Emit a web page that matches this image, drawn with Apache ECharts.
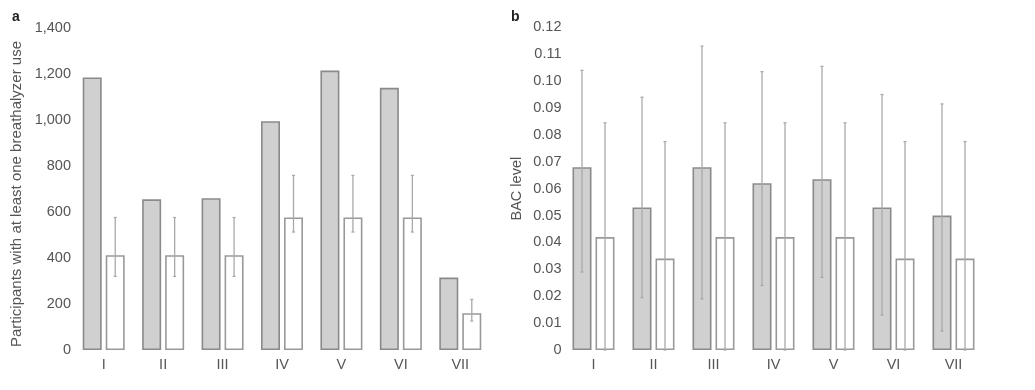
<!DOCTYPE html>
<html>
<head>
<meta charset="utf-8">
<script src="https://cdn.jsdelivr.net/npm/echarts@6/dist/echarts.min.js"></script>
<style>
html,body{margin:0;padding:0;background:#fff;}
#chart{width:1035px;height:390px;}
</style>
</head>
<body>
<div id="chart"></div>
<script>
var categories = ['I', 'II', 'III', 'IV', 'V', 'VI', 'VII'];

// Panel a: participants with at least one breathalyzer use
var aGray = [1185, 655, 660, 995, 1215, 1140, 315];
var aWhite = [412, 412, 412, 576, 576, 576, 160];
var aWhiteLow = [320, 320, 320, 513, 513, 513, 126];
var aWhiteHigh = [576, 576, 576, 759, 759, 759, 220];
var aTicks = [0, 200, 400, 600, 800, 1000, 1200, 1400];

// Panel b: BAC level
var bGray = [0.068, 0.053, 0.068, 0.062, 0.0635, 0.053, 0.050];
var bGrayLow = [0.029, 0.0195, 0.019, 0.024, 0.027, 0.013, 0.007];
var bGrayHigh = [0.104, 0.094, 0.113, 0.1035, 0.1055, 0.095, 0.0915];
var bWhite = [0.042, 0.034, 0.042, 0.042, 0.042, 0.034, 0.034];
var bWhiteLow = [0, 0, 0, 0, 0, 0, 0];
var bWhiteHigh = [0.0845, 0.0775, 0.0845, 0.0845, 0.0845, 0.0775, 0.0775];
var bTicks = [0, 0.01, 0.02, 0.03, 0.04, 0.05, 0.06, 0.07, 0.08, 0.09, 0.10, 0.11, 0.12];

var TEXT = '#555555';
var FONT = 'Liberation Sans, Arial, sans-serif';
var BAR_W = 19, BAR_GAP = 4;
var OFFSET = (BAR_W + BAR_GAP) / 2;

function errorSeries(xi, yi, low, high, side) {
  var data = categories.map(function (c, i) { return [i, low[i], high[i]]; });
  return {
    type: 'custom',
    xAxisIndex: xi,
    yAxisIndex: yi,
    z: 5,
    silent: true,
    data: data,
    encode: { x: 0, y: [1, 2] },
    renderItem: function (params, api) {
      var p0 = api.coord([api.value(0), api.value(1)]);
      var p1 = api.coord([api.value(0), api.value(2)]);
      var x = p0[0] + side * OFFSET;
      var cap = 1.5;
      var st = { stroke: '#a9a9a9', lineWidth: 1.3 };
      return {
        type: 'group',
        children: [
          { type: 'line', shape: { x1: x, y1: p0[1], x2: x, y2: p1[1] }, style: st },
          { type: 'line', shape: { x1: x - cap, y1: p0[1], x2: x + cap, y2: p0[1] }, style: st },
          { type: 'line', shape: { x1: x - cap, y1: p1[1], x2: x + cap, y2: p1[1] }, style: st }
        ]
      };
    }
  };
}

function barSeries(xi, yi, data, fill, border) {
  return {
    type: 'bar',
    xAxisIndex: xi,
    yAxisIndex: yi,
    data: data,
    barWidth: BAR_W,
    barGap: (BAR_GAP / BAR_W * 100) + '%',
    itemStyle: { color: fill, borderColor: border, borderWidth: 1.6 },
    silent: true
  };
}

function catAxis(gi) {
  return {
    type: 'category',
    gridIndex: gi,
    data: categories,
    axisLine: { show: false },
    axisTick: { show: false },
    axisLabel: { color: TEXT, fontSize: 14.5, fontFamily: FONT, margin: 7 }
  };
}

var chart = echarts.init(document.getElementById('chart'), null, { renderer: 'canvas' });
chart.setOption({
  animation: false,
  backgroundColor: '#fff',
  grid: [
    { left: 74, top: 28, width: 416, height: 322 },
    { left: 563.5, top: 27.3, width: 420, height: 322.7 }
  ],
  xAxis: [catAxis(0), catAxis(1)],
  yAxis: [
    {
      type: 'value', gridIndex: 0,
      min: aTicks[0], max: aTicks[aTicks.length - 1], interval: aTicks[1] - aTicks[0],
      splitLine: { show: false }, axisLine: { show: false }, axisTick: { show: false },
      axisLabel: {
        color: TEXT, fontSize: 14.5, fontFamily: FONT, margin: 3,
        formatter: function (v) { return String(Math.round(v)).replace(/\B(?=(\d{3})+(?!\d))/g, ','); }
      },
      name: 'Participants with at least one breathalyzer use',
      nameLocation: 'middle',
      nameGap: 50,
      nameTextStyle: { color: TEXT, fontSize: 15, fontFamily: FONT, padding: [0, 10, 0, 0] }
    },
    {
      type: 'value', gridIndex: 1,
      min: bTicks[0], max: bTicks[bTicks.length - 1], interval: 0.01,
      splitLine: { show: false }, axisLine: { show: false }, axisTick: { show: false },
      axisLabel: {
        color: TEXT, fontSize: 14.5, fontFamily: FONT, margin: 2,
        formatter: function (v) { return Math.abs(v) < 1e-9 ? '0' : v.toFixed(2); }
      },
      name: 'BAC level',
      nameLocation: 'middle',
      nameGap: 39,
      nameTextStyle: { color: TEXT, fontSize: 14.5, fontFamily: FONT }
    }
  ],
  graphic: [
    { type: 'text', left: 12, top: 10, style: { text: 'a', font: 'bold 14px ' + FONT, fill: '#222' } },
    { type: 'text', left: 511, top: 10, style: { text: 'b', font: 'bold 14px ' + FONT, fill: '#222' } }
  ],
  series: [
    barSeries(0, 0, aGray, '#d0d0d0', '#8a8a8a'),
    barSeries(0, 0, aWhite, '#ffffff', '#999999'),
    errorSeries(0, 0, aWhiteLow, aWhiteHigh, 1),
    barSeries(1, 1, bGray, '#d0d0d0', '#8a8a8a'),
    barSeries(1, 1, bWhite, '#ffffff', '#999999'),
    errorSeries(1, 1, bGrayLow, bGrayHigh, -1),
    errorSeries(1, 1, bWhiteLow, bWhiteHigh, 1)
  ]
});
</script>
</body>
</html>
